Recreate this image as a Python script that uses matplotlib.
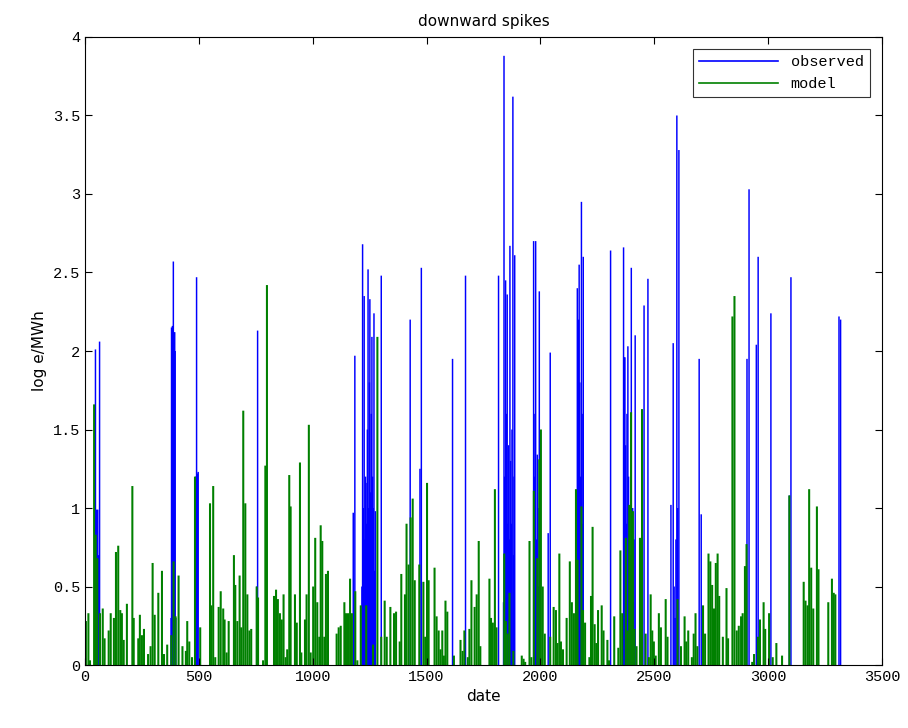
import numpy as np
import matplotlib.pyplot as plt
from matplotlib.lines import Line2D

# observed downward spikes: day, log e/MWh
obs_days = [46, 50, 53, 56, 60, 64,
            378, 380, 382, 384, 386, 388, 390, 392, 394, 396, 399,
            486, 488, 490, 492, 494, 497,
            754, 758, 1178, 1185,
            1216, 1219, 1222, 1226, 1229, 1232, 1234, 1237, 1240, 1243, 1246, 1249, 1251,
            1254, 1257, 1260, 1263, 1266, 1269, 1272, 1275, 1301,
            1428, 1471, 1477, 1614, 1671, 1816,
            1838, 1840, 1843, 1847, 1850, 1854, 1857, 1860, 1863, 1866, 1869, 1872, 1875,
            1879, 1882, 1884, 1887,
            1970, 1973, 1976, 1979, 1982, 1986, 1989, 1992, 1995, 2034, 2043,
            2160, 2162, 2165, 2168, 2170, 2173, 2176, 2180, 2183, 2185, 2188,
            2308, 2365, 2368, 2371, 2374, 2377, 2380, 2384, 2387, 2391, 2394, 2399,
            2402, 2405, 2408, 2411, 2416, 2455, 2472,
            2573, 2583, 2587, 2591, 2595, 2599, 2603, 2608, 2697, 2706,
            2907, 2916, 2948, 2956, 3012, 3093, 3100, 3311, 3318]
obs_vals = [2.01, 0.99, 0.98, 0.99, 0.7, 2.06,
            0.3, 2.15, 1.9, 2.16, 1.6, 2.57, 2.12, 1.8, 2.12, 2.0, 0.3,
            1.2, 0.4, 2.47, 0.8, 1.22, 1.23,
            0.5, 2.13, 0.97, 1.97,
            0.5, 2.68, 1.0, 2.35, 0.8, 1.2, 1.16, 0.9, 1.5, 2.52, 1.0, 1.8, 2.33,
            1.1, 1.6, 2.09, 1.2, 1.0, 2.24, 0.6, 0.98, 2.48,
            2.2, 1.25, 2.53, 1.95, 2.48, 2.48,
            0.4, 3.88, 1.2, 2.45, 1.6, 2.36, 0.9, 1.4, 0.8, 2.67, 1.3, 0.9, 1.5,
            3.62, 0.7, 1.2, 2.61,
            2.70, 1.2, 1.6, 2.70, 0.8, 1.34, 1.0, 0.5, 2.38, 0.84, 1.99,
            0.6, 2.40, 1.5, 2.2, 2.55, 1.8, 1.2, 2.95, 1.6, 0.9, 2.6,
            2.64, 2.66, 1.96, 1.96, 1.4, 0.9, 1.6, 2.03, 1.2, 1.01, 0.7, 2.53,
            0.6, 1.0, 0.4, 0.8, 2.1, 2.29, 2.46,
            1.02, 2.05, 0.5, 0.3, 0.8, 3.50, 1.0, 3.28, 1.95, 0.96,
            1.95, 3.03, 2.04, 2.6, 2.24, 1.08, 2.47, 2.22, 2.2]

# model downward spikes: day, log e/MWh
mod_days = [4, 15, 22, 40, 47, 54, 66, 78, 86, 104, 113, 127, 136, 146, 155, 162, 170, 184,
            208, 214, 234, 241, 250, 259, 277, 288, 297, 306, 322, 338, 347, 361, 379, 389,
            398, 411, 428, 443, 449, 458, 470, 483, 506, 549, 555, 563, 572, 587, 596, 607,
            613, 622, 631, 654, 660, 669, 679, 686, 695, 704, 713, 722, 730, 754, 760, 782,
            792, 799, 830, 839, 847, 856, 864, 872, 881, 888, 897, 903, 922, 930, 944, 950,
            966, 973, 983, 991, 1002, 1011, 1020, 1029, 1035, 1042, 1051, 1058, 1067, 1105,
            1114, 1123, 1139, 1146, 1155, 1164, 1172, 1187, 1196, 1211, 1235, 1265, 1284,
            1301, 1316, 1325, 1341, 1357, 1366, 1382, 1389, 1405, 1412, 1421, 1430, 1439,
            1448, 1468, 1486, 1494, 1502, 1509, 1535, 1544, 1553, 1561, 1569, 1576, 1583,
            1591, 1620, 1649, 1658, 1666, 1681, 1688, 1697, 1711, 1720, 1729, 1736, 1776,
            1783, 1791, 1800, 1807, 1841, 1848, 1856, 1864, 1881, 1918, 1926, 1933, 1952,
            1960, 1971, 1986, 1995, 2002, 2010, 2019, 2043, 2058, 2068, 2075, 2083, 2090,
            2099, 2115, 2129, 2138, 2147, 2156, 2163, 2180, 2187, 2196, 2215, 2222, 2229,
            2238, 2245, 2253, 2269, 2277, 2294, 2301, 2324, 2342, 2351, 2359, 2375, 2383,
            2390, 2398, 2406, 2413, 2422, 2437, 2446, 2462, 2476, 2484, 2491, 2498, 2506,
            2520, 2529, 2550, 2558, 2602, 2617, 2633, 2640, 2649, 2665, 2673, 2681, 2689,
            2714, 2723, 2738, 2746, 2754, 2762, 2770, 2778, 2785, 2801, 2817, 2824, 2843,
            2852, 2862, 2871, 2881, 2888, 2898, 2905, 2930, 2938, 2955, 2964, 2980, 2987,
            3004, 3020, 3036, 3061, 3093, 3156, 3164, 3173, 3180, 3189, 3198, 3214, 3221,
            3264, 3280, 3288, 3295]
mod_vals = [0.28, 0.33, 0.03, 1.66, 0.83, 0.68, 0.33, 0.36, 0.17, 0.22, 0.33, 0.30, 0.72,
            0.76, 0.35, 0.33, 0.16, 0.39, 1.14, 0.30, 0.17, 0.32, 0.19, 0.23, 0.07, 0.12,
            0.65, 0.32, 0.46, 0.60, 0.07, 0.13, 0.19, 0.66, 0.31, 0.57, 0.12, 0.09, 0.28,
            0.15, 0.05, 1.20, 0.24, 1.03, 0.38, 1.14, 0.05, 0.37, 0.47, 0.36, 0.29, 0.08,
            0.28, 0.70, 0.51, 0.28, 0.57, 0.24, 1.62, 1.03, 0.45, 0.22, 0.23, 0.50, 0.43,
            0.03, 1.27, 2.42, 0.44, 0.48, 0.42, 0.33, 0.29, 0.45, 0.05, 0.10, 1.21, 1.01,
            0.45, 0.27, 1.29, 0.08, 0.29, 0.45, 1.53, 0.08, 0.50, 0.81, 0.40, 0.18, 0.89,
            0.79, 0.18, 0.58, 0.60, 0.20, 0.24, 0.25, 0.40, 0.33, 0.33, 0.55, 0.33, 0.47,
            0.03, 0.38, 0.38, 0.13, 2.09, 0.18, 0.41, 0.18, 0.37, 0.33, 0.34, 0.15, 0.58,
            0.45, 0.90, 0.64, 0.94, 1.06, 0.54, 0.64, 0.53, 0.18, 1.16, 0.54, 0.62, 0.31,
            0.22, 0.10, 0.22, 0.06, 0.41, 0.34, 0.06, 0.16, 0.09, 0.22, 0.05, 0.23, 0.54,
            0.37, 0.45, 0.79, 0.12, 0.55, 0.30, 0.27, 1.12, 0.24, 0.71, 0.28, 0.20, 0.46,
            0.09, 0.06, 0.04, 0.02, 0.79, 0.05, 1.11, 0.68, 1.31, 1.50, 0.50, 0.20, 0.18,
            0.37, 0.35, 0.14, 0.71, 0.15, 0.10, 0.30, 0.66, 0.40, 0.33, 1.12, 0.67, 1.01,
            0.35, 0.27, 0.05, 0.44, 0.88, 0.26, 0.14, 0.35, 0.38, 0.22, 0.16, 0.03, 0.31,
            0.11, 0.73, 0.33, 0.81, 0.22, 1.02, 1.61, 0.98, 0.23, 0.12, 0.81, 1.63, 0.20,
            0.05, 0.45, 0.22, 0.15, 0.06, 0.33, 0.24, 0.42, 0.18, 0.42, 0.12, 0.31, 0.15,
            0.22, 0.05, 0.20, 0.33, 0.12, 0.38, 0.20, 0.71, 0.66, 0.51, 0.36, 0.65, 0.71,
            0.44, 0.18, 0.49, 0.17, 2.22, 2.35, 0.22, 0.25, 0.31, 0.33, 0.63, 0.77, 0.02,
            0.07, 0.18, 0.29, 0.40, 0.23, 0.33, 0.05, 0.14, 0.06, 1.08, 0.53, 0.41, 0.38,
            1.12, 0.62, 0.36, 1.01, 0.61, 0.40, 0.55, 0.46, 0.45]

blue = '#0000ff'
green = '#008000'

fig = plt.figure(figsize=(9.08, 7.28), dpi=100)
ax = fig.add_axes([0.0936, 0.0865, 0.8778, 0.8627])

# thin bars so neighbouring days merge like the dense original line
ax.bar(obs_days, obs_vals, width=6.5, color=blue, linewidth=0, snap=False)
ax.bar(mod_days, mod_vals, width=9, color=green, linewidth=0, snap=False)

ax.set_xlim(0, 3500)
ax.set_ylim(0, 4)
ax.set_xticks(np.arange(0, 3501, 500))
ax.set_yticks(np.arange(0, 4.01, 0.5))
ax.set_yticklabels(['0', '0.5', '1', '1.5', '2', '2.5', '3', '3.5', '4'])
ax.tick_params(direction='in', top=True, right=True, length=5, labelsize=11)
for lab in ax.get_xticklabels() + ax.get_yticklabels():
    lab.set_family('Liberation Mono')

ax.set_title('downward spikes', fontsize=11, pad=8)
ax.set_xlabel('date', fontsize=11)
ax.set_ylabel('log e/MWh', fontsize=11)

handles = [Line2D([], [], color=blue, linewidth=1.2),
           Line2D([], [], color=green, linewidth=1.2)]
leg = ax.legend(handles, ['observed', 'model'], loc='upper right', handlelength=5.2,
                frameon=True, fancybox=False, edgecolor='black', borderaxespad=0.8,
                prop={'family': 'Liberation Mono', 'size': 11})
leg.get_frame().set_linewidth(0.8)

fig.savefig('out.png', dpi=100)
